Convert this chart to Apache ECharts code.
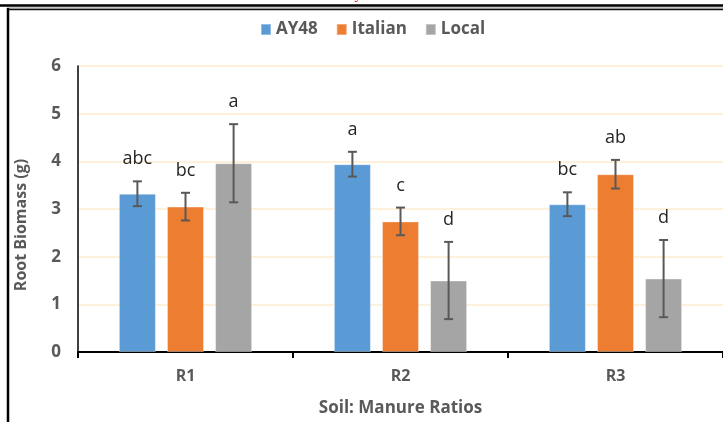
<!DOCTYPE html>
<html>
<head>
<meta charset="utf-8">
<script src="https://cdn.jsdelivr.net/npm/echarts@6/dist/echarts.min.js"></script>
<style>
  html, body { margin: 0; padding: 0; background: #fff; }
  #chart { width: 723px; height: 422px; }
</style>
</head>
<body>
<div id="chart"></div>
<script>
// Root biomass by soil:manure ratio and variety
const categories = ['R1', 'R2', 'R3'];
const seriesNames = ['AY48', 'Italian', 'Local'];
const ay48 = [3.32, 3.94, 3.10];
const italian = [3.05, 2.74, 3.73];
const local = [3.96, 1.50, 1.54];
const ay48Err = [0.26, 0.26, 0.25];
const italianErr = [0.29, 0.29, 0.30];
const localErr = [0.82, 0.81, 0.81];
const ay48Letters = ['abc', 'a', 'bc'];
const italianLetters = ['bc', 'c', 'ab'];
const localLetters = ['a', 'd', 'd'];
const yTicks = [0, 1, 2, 3, 4, 5, 6];

const values = [ay48, italian, local];
const errors = [ay48Err, italianErr, localErr];
const letters = [ay48Letters, italianLetters, localLetters];
const colors = ['#5B9BD5', '#ED7D31', '#A5A5A5'];

const BAR_W = 37;
const BAR_GAP = 0.3;
const STEP = BAR_W * (1 + BAR_GAP);
const FONT = '"Open Sans", "Liberation Sans", sans-serif';

const chart = echarts.init(document.getElementById('chart'), null, { renderer: 'canvas' });

const barSeries = seriesNames.map((name, i) => ({
  name: name,
  type: 'bar',
  data: values[i],
  barWidth: BAR_W,
  barGap: (BAR_GAP * 100) + '%',
  itemStyle: { color: colors[i], borderColor: 'rgba(255,255,255,0.35)', borderWidth: 1 },
  z: 2
}));

// whiskers and significance letters for each bar
const errSeries = seriesNames.map((name, i) => ({
  type: 'custom',
  name: name + '-err',
  data: values[i].map((v, j) => [j, v, errors[i][j]]),
  z: 5,
  silent: true,
  renderItem: function (params, api) {
    const c = api.value(0), v = api.value(1), e = api.value(2);
    const label = letters[i][params.dataIndex];
    const off = (i - 1) * STEP;
    const top = api.coord([c, v + e]);
    const bot = api.coord([c, v - e]);
    const x = top[0] + off;
    const cap = 4.5;
    const st = { stroke: '#595959', lineWidth: 2 };
    return {
      type: 'group',
      children: [
        { type: 'line', shape: { x1: x, y1: top[1], x2: x, y2: bot[1] }, style: st },
        { type: 'line', shape: { x1: x - cap, y1: top[1], x2: x + cap, y2: top[1] }, style: st },
        { type: 'line', shape: { x1: x - cap, y1: bot[1], x2: x + cap, y2: bot[1] }, style: st },
        { type: 'text', style: { text: label, x: x, y: top[1] - 22, align: 'center', verticalAlign: 'middle',
          font: '18px ' + FONT, fill: '#262626' } }
      ]
    };
  }
}));

chart.setOption({
  animation: false,
  backgroundColor: '#ffffff',
  legend: {
    data: seriesNames,
    left: 255,
    top: 16,
    itemWidth: 10,
    itemHeight: 11,
    itemGap: 18,
    icon: 'rect',
    textStyle: { fontFamily: FONT, fontWeight: 'bold', fontSize: 17, color: '#595959' }
  },
  grid: { left: 78, top: 66, width: 648, height: 288, containLabel: false },
  xAxis: {
    type: 'category',
    data: categories,
    name: 'Soil: Manure Ratios',
    nameLocation: 'middle',
    nameGap: 48,
    nameTextStyle: { fontFamily: FONT, fontWeight: 'bold', fontSize: 17, color: '#595959' },
    axisLine: { lineStyle: { color: '#000', width: 2 } },
    axisTick: { show: true, length: 6, lineStyle: { color: '#000', width: 2 } },
    axisLabel: { margin: 16, fontFamily: FONT, fontWeight: 'bold', fontSize: 16, color: '#595959' }
  },
  yAxis: {
    type: 'value',
    min: yTicks[0],
    max: yTicks[yTicks.length - 1],
    interval: 1,
    axisLine: { show: true, lineStyle: { color: '#000', width: 1.5 } },
    axisTick: { show: false },
    axisLabel: { margin: 17, fontFamily: FONT, fontWeight: 'bold', fontSize: 17, color: '#595959' },
    splitLine: { lineStyle: { color: '#fdecd0', width: 1.5 } }
  },
  graphic: [
    { type: 'text', rotation: Math.PI / 2, x: 21, y: 225,
      style: { text: 'Root Biomass (g)', align: 'center', verticalAlign: 'middle',
        font: 'bold 16px ' + FONT, fill: '#595959' } },
    { type: 'line', shape: { x1: 0, y1: 5.5, x2: 723, y2: 5.5 }, style: { stroke: '#000', lineWidth: 2.5 } },
    { type: 'line', shape: { x1: 7, y1: 8, x2: 723, y2: 8 }, style: { stroke: '#888', lineWidth: 1 } },
    { type: 'line', shape: { x1: 7, y1: 9.5, x2: 723, y2: 9.5 }, style: { stroke: '#111', lineWidth: 1.5 } },
    { type: 'line', shape: { x1: 8, y1: 8, x2: 8, y2: 422 }, style: { stroke: '#000', lineWidth: 2.5 } },
    { type: 'text', x: 358, y: -12, style: { text: 'y', font: '14px "Liberation Serif", serif', fill: '#e00000', align: 'center' } }
  ],
  series: barSeries.concat(errSeries)
});
</script>
</body>
</html>
